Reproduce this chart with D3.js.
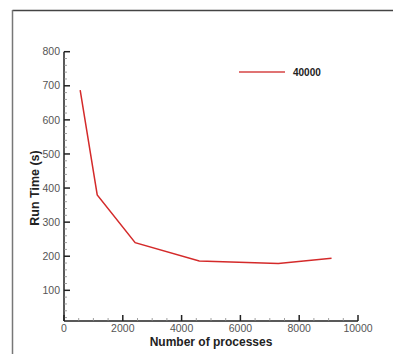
<!DOCTYPE html>
<html><head><meta charset="utf-8">
<script src="https://cdn.jsdelivr.net/npm/d3@7"></script>
<style>body{margin:0;background:#fff}svg{display:block}</style>
</head><body>
<script>
const processes = [550, 1130, 2420, 4600, 7290, 9100];
const runTime = [687, 380, 240, 186, 179, 194];
const seriesName = "40000";
const xTicks = [0, 2000, 4000, 6000, 8000, 10000];
const yTicks = [100, 200, 300, 400, 500, 600, 700, 800];

const W = 393, H = 354;
const svg = d3.select("body").append("svg").attr("width", W).attr("height", H);

// outer frame
svg.append("line").attr("x1", 12.5).attr("x2", W).attr("y1", 10.5).attr("y2", 10.5).attr("stroke", "#444").attr("stroke-width", 1.5);
svg.append("line").attr("x1", 12.5).attr("x2", 12.5).attr("y1", 10).attr("y2", H).attr("stroke", "#777").attr("stroke-width", 1.5);

const x = d3.scaleLinear().domain([0, 10000]).range([64, 358]);
const y = d3.scaleLinear().domain([10, 800]).range([321, 51.7]);

const axisColor = "#222", labelColor = "#555";
const font = "Liberation Sans, Arial, sans-serif";

// y axis
const gy = svg.append("g");
gy.append("line").attr("x1", x(0)).attr("x2", x(0)).attr("y1", y(800)).attr("y2", y(10)).attr("stroke", axisColor).attr("stroke-width", 1.5);
d3.range(20, 801, 20).forEach(v => {
  const major = v % 100 === 0;
  gy.append("line").attr("x1", x(0)).attr("x2", x(0) + (major ? 6 : 3)).attr("y1", y(v)).attr("y2", y(v))
    .attr("stroke", major ? axisColor : "#888").attr("stroke-width", major ? 1.5 : 0.8);
});
yTicks.forEach(v => {
  gy.append("text").attr("x", x(0) - 4).attr("y", y(v)).attr("dy", "0.35em").attr("text-anchor", "end")
    .attr("font-family", font).attr("font-size", 10.5).attr("fill", labelColor).text(v);
});

// x axis
const gx = svg.append("g");
gx.append("line").attr("x1", x(0)).attr("x2", x(10000)).attr("y1", y(10)).attr("y2", y(10)).attr("stroke", axisColor).attr("stroke-width", 1.5);
d3.range(0, 10001, 500).forEach(v => {
  const major = v % 2000 === 0;
  gx.append("line").attr("x1", x(v)).attr("x2", x(v)).attr("y1", y(10)).attr("y2", y(10) - (major ? 6 : 3))
    .attr("stroke", major ? axisColor : "#888").attr("stroke-width", major ? 1.5 : 0.8);
});
xTicks.forEach(v => {
  gx.append("text").attr("x", x(v)).attr("y", 332).attr("text-anchor", "middle")
    .attr("font-family", font).attr("font-size", 10.5).attr("fill", labelColor).text(v);
});

// axis titles
svg.append("text").attr("x", 211).attr("y", 345.5).attr("text-anchor", "middle")
  .attr("font-family", font).attr("font-weight", "bold").attr("font-size", 12).attr("fill", "#222")
  .text("Number of processes");
svg.append("text").attr("transform", "translate(39,188) rotate(-90)").attr("text-anchor", "middle")
  .attr("font-family", font).attr("font-weight", "bold").attr("font-size", 12.5).attr("fill", "#222")
  .text("Run Time (s)");

// data line
const data = processes.map((p, i) => [p, runTime[i]]);
svg.append("path").datum(data).attr("fill", "none").attr("stroke", "#d42a2a").attr("stroke-width", 1.5)
  .attr("d", d3.line().x(d => x(d[0])).y(d => y(d[1])));

// legend
svg.append("line").attr("x1", 239).attr("x2", 285).attr("y1", 72).attr("y2", 72).attr("stroke", "#d64545").attr("stroke-width", 1.6);
svg.append("text").attr("x", 293).attr("y", 72).attr("dy", "0.35em")
  .attr("font-family", font).attr("font-weight", "bold").attr("font-size", 10).attr("fill", "#222")
  .text(seriesName);
</script>
</body></html>
